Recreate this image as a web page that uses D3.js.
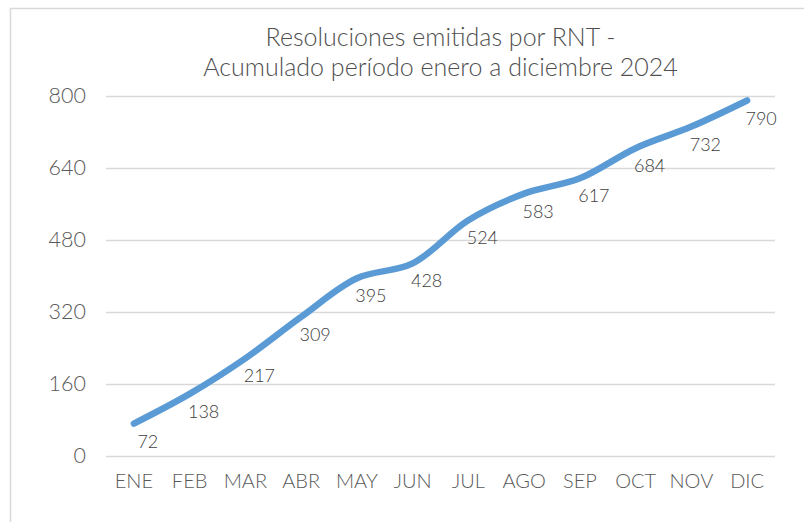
<!DOCTYPE html>
<html>
<head>
<meta charset="utf-8">
<script src="https://cdn.jsdelivr.net/npm/d3@7"></script>
<style>
  body { margin: 0; background: #fff; }
  svg { display: block; font-family: Lato, "Open Sans", sans-serif; font-weight: 300; }
</style>
</head>
<body>
<svg id="chart" width="804" height="522"></svg>
<script>
// Chart data
const months = ["ENE", "FEB", "MAR", "ABR", "MAY", "JUN", "JUL", "AGO", "SEP", "OCT", "NOV", "DIC"];
const values = [72, 138, 217, 309, 395, 428, 524, 583, 617, 684, 732, 790];
const yTicks = [0, 160, 320, 480, 640, 800];
const titleLines = ["Resoluciones emitidas por RNT -", "Acumulado período enero a diciembre 2024"];

const svg = d3.select("#chart");
const margin = { top: 96, right: 29, bottom: 66, left: 106 };
const width = 804 - margin.left - margin.right;
const height = 522 - margin.top - margin.bottom;

// Outer chart frame (runs past the right/bottom edges)
svg.append("rect")
  .attr("x", 10.5).attr("y", 8.5)
  .attr("width", 820).attr("height", 540)
  .attr("fill", "none")
  .attr("stroke", "#d9d9d9")
  .attr("stroke-width", 1.5);

const x = d3.scaleBand()
  .domain(months)
  .range([margin.left, margin.left + width]);

const y = d3.scaleLinear()
  .domain([0, 800])
  .range([margin.top + height, margin.top]);

// Title
svg.append("g").selectAll("text")
  .data(titleLines)
  .enter()
  .append("text")
  .attr("x", margin.left + width / 2)
  .attr("y", (d, i) => 46 + i * 30)
  .attr("text-anchor", "middle")
  .attr("font-size", 25)
  .attr("fill", "#505050")
  .text(d => d);

// Gridlines + y labels
const yAxis = d3.axisLeft(y)
  .tickValues(yTicks)
  .tickSize(-width)
  .tickPadding(20);

const gy = svg.append("g")
  .attr("transform", `translate(${margin.left}, 0)`)
  .call(yAxis);
gy.select(".domain").remove();
gy.selectAll(".tick line").attr("stroke", "#d9d9d9").attr("stroke-width", 1.5);
gy.selectAll(".tick text")
  .attr("font-size", 21.5)
  .attr("font-family", "Lato, sans-serif")
  .attr("font-weight", 300)
  .attr("fill", "#595959");

// X labels
const xAxis = d3.axisBottom(x).tickSize(0).tickPadding(18);
const gx = svg.append("g")
  .attr("transform", `translate(0, ${margin.top + height})`)
  .call(xAxis);
gx.select(".domain").remove();
gx.selectAll(".tick text")
  .attr("font-size", 20)
  .attr("font-family", "Lato, sans-serif")
  .attr("font-weight", 300)
  .attr("fill", "#595959");

// Smoothed line
const points = months.map((m, i) => ({ m, v: values[i] }));
const line = d3.line()
  .x(d => x(d.m) + x.bandwidth() / 2)
  .y(d => y(d.v))
  .curve(d3.curveCatmullRom);

svg.append("path")
  .datum(points)
  .attr("d", line)
  .attr("fill", "none")
  .attr("stroke", "#5b9bd5")
  .attr("stroke-width", 6.5)
  .attr("stroke-linecap", "round")
  .attr("stroke-linejoin", "round");

// Data labels
svg.append("g").selectAll("text")
  .data(points)
  .enter()
  .append("text")
  .attr("x", d => x(d.m) + x.bandwidth() / 2 + 14)
  .attr("y", d => y(d.v) + 24)
  .attr("text-anchor", "middle")
  .attr("font-size", 18)
  .attr("fill", "#404040")
  .text(d => d.v);
</script>
</body>
</html>
